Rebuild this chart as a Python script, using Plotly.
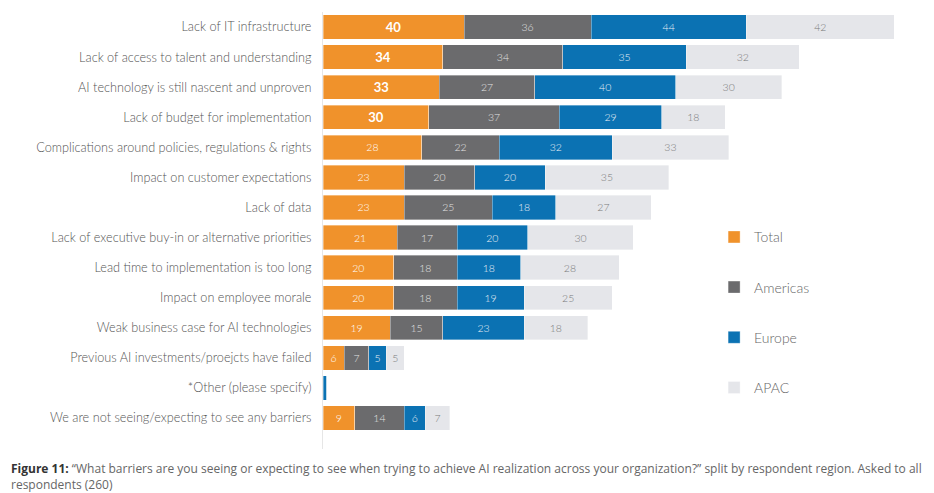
import plotly.graph_objects as go

categories = [
    "Lack of IT infrastructure",
    "Lack of access to talent and understanding",
    "AI technology is still nascent and unproven",
    "Lack of budget for implementation",
    "Complications around policies, regulations & rights",
    "Impact on customer expectations",
    "Lack of data",
    "Lack of executive buy-in or alternative priorities",
    "Lead time to implementation is too long",
    "Impact on employee morale",
    "Weak business case for AI technologies",
    "Previous AI investments/proejcts have failed",
    "*Other (please specify)",
    "We are not seeing/expecting to see any barriers",
]
total =    [40, 34, 33, 30, 28, 23, 23, 21, 20, 20, 19, 6, 0, 9]
americas = [36, 34, 27, 37, 22, 20, 25, 17, 18, 18, 15, 7, 0, 14]
europe =   [44, 35, 40, 29, 32, 20, 18, 20, 18, 19, 23, 5, 1, 6]
apac =     [42, 32, 30, 18, 33, 35, 27, 30, 28, 25, 18, 5, 0, 7]
series_names = ["Total", "Americas", "Europe", "APAC"]
caption_bold = "Figure 11:"
caption_line1 = ("\u201cWhat barriers are you seeing or expecting to see when trying to achieve AI realization "
                 "across your organization?\u201d split by respondent region. Asked to all")
caption_line2 = "respondents (260)"

colors = ["#F0922B", "#6B6B6D", "#0B72B3", "#E5E6EA"]
text_colors = ["#FFFFFF", "#E2E2E2", "#E8EEF5", "#7A7A7A"]
FONT = "Lato"

fig = go.Figure()
all_series = [total, americas, europe, apac]
for i, (name, vals) in enumerate(zip(series_names, all_series)):
    texts = []
    sizes = []
    for j, v in enumerate(vals):
        if v <= 1:
            texts.append("")
        elif i == 0 and j < 4:
            texts.append(f"<b>{v}</b>")
        else:
            texts.append(str(v))
        sizes.append(13 if (i == 0 and j < 4) else 10.5)
    fig.add_trace(go.Bar(
        y=list(range(len(categories))),
        x=vals,
        name=name,
        orientation="h",
        marker=dict(color=colors[i], line=dict(color="rgba(255,255,255,0.6)", width=0.6)),
        text=texts,
        texttemplate="%{text}",
        textposition="inside",
        insidetextanchor="middle",
        textangle=0,
        constraintext="none",
        textfont=dict(color=text_colors[i], size=sizes, family=FONT, weight=300),
        legendgroup=name,
        hoverinfo="skip",
    ))

cap_x = (9 - 323) / 582
fig.update_layout(
    barmode="stack",
    bargap=0.19,
    width=934,
    height=493,
    margin=dict(l=323, r=29, t=12, b=44),
    plot_bgcolor="white",
    paper_bgcolor="white",
    font=dict(family=FONT, color="#555555"),
    xaxis=dict(range=[0, 165], visible=False, fixedrange=True),
    yaxis=dict(
        range=[14.03, -0.5],
        tickmode="array",
        tickvals=list(range(len(categories))),
        ticktext=categories,
        showline=True,
        linecolor="#E6E6E6",
        linewidth=1,
        showgrid=False,
        zeroline=False,
        fixedrange=True,
        ticks="outside",
        ticklen=8,
        tickcolor="rgba(0,0,0,0)",
        tickfont=dict(size=12.7, color="#555555", family=FONT, weight=300),
    ),
    showlegend=True,
    legend=dict(
        x=0.672, y=0.521, xanchor="left", yanchor="top",
        traceorder="grouped",
        tracegroupgap=29,
        font=dict(size=14, color="#666666", family=FONT, weight=300),
        bgcolor="rgba(0,0,0,0)",
        itemclick=False,
    ),
    annotations=[
        dict(
            text=f"<b>{caption_bold}</b> <span style='color:#666666'>{caption_line1}</span>",
            xref="paper", yref="paper",
            x=cap_x, y=0, yshift=-19,
            xanchor="left", yanchor="middle",
            align="left", showarrow=False,
            font=dict(size=12, color="#333333", family="Open Sans"),
        ),
        dict(
            text=caption_line2,
            xref="paper", yref="paper",
            x=cap_x, y=0, yshift=-35,
            xanchor="left", yanchor="middle",
            align="left", showarrow=False,
            font=dict(size=12, color="#666666", family="Open Sans"),
        ),
    ],
)

fig.write_html("out.html", config={"displayModeBar": False},
               post_script="document.body.style.margin='0';")
